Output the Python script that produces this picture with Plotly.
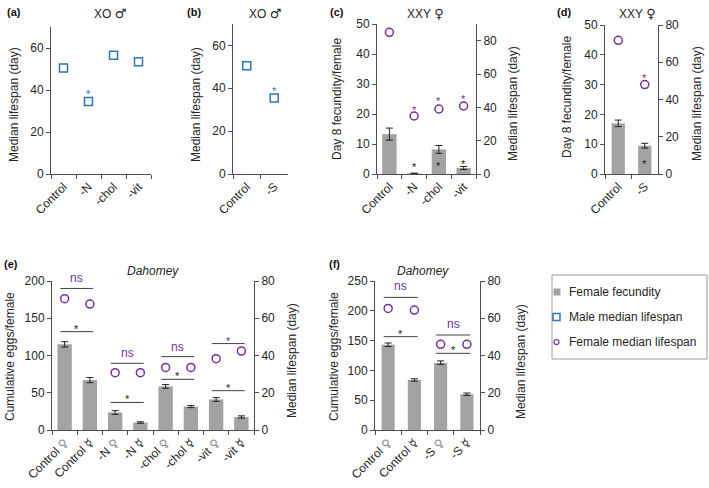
import plotly.graph_objects as go

W, H = 709, 488
FONT = "Arial, Liberation Sans, Helvetica, sans-serif"
BAR_C = "#a3a3a3"
BLUE = "#2e75b6"
PURPLE = "#7030a0"
AXC = "#4d4d4d"
TXT = "#262626"
LINE_C = "#404040"

# ---------------- data ----------------
# (a) XO male, median lifespan (day)
a_cats = ["Control", "-N", "-chol", "-vit"]
a_male = [50.5, 34.5, 56.5, 53.5]
a_star = [None, 39.5, None, None]

# (b) XO male
b_cats = ["Control", "-S"]
b_male = [50.5, 35.5]
b_star = [None, 40.0]

# (c) XXY female: day 8 fecundity (left) and median lifespan (right)
c_cats = ["Control", "-N", "-chol", "-vit"]
c_fec = [13.3, 0.2, 8.2, 2.0]
c_fec_err = [2.0, 0.1, 1.3, 0.5]
c_life = [85.0, 34.8, 39.0, 40.8]
c_fec_star = [None, 3.2, 3.8, 4.5]
c_life_star = [None, 40.4, 45.4, 46.8]

# (d) XXY female
d_cats = ["Control", "-S"]
d_fec = [17.0, 9.5]
d_fec_err = [1.1, 0.8]
d_life = [71.8, 48.0]
d_fec_star = [None, 4.3]
d_life_star = [None, 53.3]

# (e) Dahomey: cumulative eggs (left) and median lifespan (right)
e_cats = ["Control ♀", "Control ☿", "-N ♀", "-N ☿", "-chol ♀", "-chol ☿", "-vit ♀", "-vit ☿"]
e_fec = [115, 67, 23.5, 10, 58.5, 31.5, 41, 17.5]
e_fec_err = [3.5, 3.5, 2.5, 1.0, 2.5, 1.5, 2.5, 1.5]
e_life = [70.5, 67.6, 30.8, 30.8, 33.6, 33.6, 38.3, 42.4]
e_pairs = [0, 2, 4, 6]
e_life_brk = [76.0, 35.8, 39.4, 46.4]      # right-axis units
e_life_lab = ["ns", "ns", "ns", "*"]
e_fec_brk = [132, 37, 68, 52.8]            # left-axis units
e_fec_lab = ["*", "*", "*", "*"]

# (f) Dahomey
f_cats = ["Control ♀", "Control ☿", "-S ♀", "-S ☿"]
f_fec = [143, 84, 113, 60]
f_fec_err = [3, 2, 3, 2]
f_life = [65.3, 64.4, 46.0, 46.0]
f_pairs = [0, 2]
f_life_brk = [71.2, 51.0]
f_life_lab = ["ns", "ns"]
f_fec_brk = [156.6, 128.6]
f_fec_lab = ["*", "*"]

legend_labels = ["Female fecundity", "Male median lifespan", "Female median lifespan"]


# ---------------- helpers ----------------
def px_x(p):
    return p / W


def px_y(p):
    return 1 - p / H


SYM_STYLE = "font-family:DejaVu Sans;font-size:12px"


def fmt_tick(c):
    c = c.replace("♀", "<span style='%s;color:#8c8c8c'>♀</span>" % SYM_STYLE)
    c = c.replace("☿", "<span style='%s'>☿</span>" % SYM_STYLE)
    return c


def make_x(dom, cats, anchor):
    return dict(domain=[px_x(dom[0]), px_x(dom[1])], range=[-0.5, len(cats) - 0.5],
                type="category", anchor=anchor, showline=True, linecolor=AXC, linewidth=1,
                ticks="outside", tickson="boundaries", ticklen=4, tickcolor=AXC,
                tickangle=-45, tickmode="array", tickvals=cats,
                ticktext=[fmt_tick(c) for c in cats],
                tickfont=dict(size=12, color=TXT, family=FONT), automargin=False,
                showgrid=False, zeroline=False, fixedrange=True)


def make_y(dom, rng, tickvals, anchor, side="left", overlaying=None):
    d = dict(range=rng, anchor=anchor, side=side, showline=True, linecolor=AXC,
             linewidth=1, ticks="outside", ticklen=4, tickcolor=AXC,
             tickmode="array", tickvals=tickvals, automargin=False,
             tickfont=dict(size=12, color=TXT, family=FONT),
             showgrid=False, zeroline=False, fixedrange=True)
    if overlaying:
        d["overlaying"] = overlaying
    else:
        d["domain"] = [px_y(dom[1]), px_y(dom[0])]
    return d


fig = go.Figure()
ann = []
shapes = []


def text_ann(xref, yref, x, y, text, color, size=12, yshift=0, **kw):
    d = dict(xref=xref, yref=yref, x=x, y=y, text=text, showarrow=False,
             font=dict(size=size, color=color, family=FONT), xanchor="center",
             yanchor="middle", yshift=yshift)
    d.update(kw)
    ann.append(d)


def stars(xref, yref, cats, ys, color):
    for c, v in zip(cats, ys):
        if v is not None:
            text_ann(xref, yref, c, v, "*", color, size=11, yshift=-3)


def bars(xa, ya, cats, vals, errs, width):
    fig.add_trace(go.Bar(x=cats, y=vals, xaxis=xa, yaxis=ya, width=width,
                         marker=dict(color=BAR_C, line=dict(width=0)),
                         error_y=dict(type="data", array=errs, color="#222222",
                                      thickness=1, width=3.5),
                         showlegend=False, hoverinfo="skip"))


def points(xa, ya, cats, vals, symbol, color):
    fig.add_trace(go.Scatter(x=cats, y=vals, xaxis=xa, yaxis=ya, mode="markers",
                             marker=dict(symbol=symbol, size=8, color=color,
                                         line=dict(color=color, width=1.5)),
                             showlegend=False, hoverinfo="skip"))


def brackets(xa, ya, pairs, ys, labels, color, lab_shift):
    for i, v, lab in zip(pairs, ys, labels):
        shapes.append(dict(type="line", xref=xa, yref=ya, x0=i - 0.17, x1=i + 1.13,
                           y0=v, y1=v, line=dict(color=LINE_C, width=1)))
        shift = lab_shift if lab == "ns" else 3
        text_ann(xa, ya, i + 0.48, v, lab, color, size=12 if lab == "ns" else 11,
                 yshift=shift)


# ---------------- panels ----------------
L = {}
# (a)
L["xaxis"] = make_x((51, 151), a_cats, "y")
L["yaxis"] = make_y((27, 174), [0, 70], [0, 20, 40, 60], "x")
points("x", "y", a_cats, a_male, "square-open", BLUE)
stars("x", "y", a_cats, a_star, BLUE)

# (b)
L["xaxis2"] = make_x((233, 288), b_cats, "y2")
L["yaxis2"] = make_y((24, 174), [0, 70], [0, 20, 40, 60], "x2")
points("x2", "y2", b_cats, b_male, "square-open", BLUE)
stars("x2", "y2", b_cats, b_star, BLUE)

# (c)
L["xaxis3"] = make_x((377, 476), c_cats, "y3")
L["yaxis3"] = make_y((24, 174), [0, 50], [0, 10, 20, 30, 40, 50], "x3")
L["yaxis4"] = make_y(None, [0, 90], [0, 20, 40, 60, 80], "x3", side="right", overlaying="y3")
bars("x3", "y3", c_cats, c_fec, c_fec_err, 0.58)
points("x3", "y4", c_cats, c_life, "circle-open", PURPLE)
stars("x3", "y3", c_cats, c_fec_star, "#222222")
stars("x3", "y4", c_cats, c_life_star, PURPLE)

# (d)
L["xaxis4"] = make_x((605, 658), d_cats, "y5")
L["yaxis5"] = make_y((25, 174), [0, 50], [0, 10, 20, 30, 40, 50], "x4")
L["yaxis6"] = make_y(None, [0, 80], [0, 20, 40, 60, 80], "x4", side="right", overlaying="y5")
bars("x4", "y5", d_cats, d_fec, d_fec_err, 0.5)
points("x4", "y6", d_cats, d_life, "circle-open", PURPLE)
stars("x4", "y5", d_cats, d_fec_star, "#222222")
stars("x4", "y6", d_cats, d_life_star, PURPLE)

# (e)
L["xaxis5"] = make_x((52, 254), e_cats, "y7")
L["yaxis7"] = make_y((281, 430), [0, 200], [0, 50, 100, 150, 200], "x5")
L["yaxis8"] = make_y(None, [0, 80], [0, 20, 40, 60, 80], "x5", side="right", overlaying="y7")
bars("x5", "y7", e_cats, e_fec, e_fec_err, 0.57)
points("x5", "y8", e_cats, e_life, "circle-open", PURPLE)
brackets("x5", "y8", e_pairs, e_life_brk, e_life_lab, PURPLE, 10)
brackets("x5", "y7", e_pairs, e_fec_brk, e_fec_lab, "#222222", 10)

# (f)
L["xaxis6"] = make_x((375, 480), f_cats, "y9")
L["yaxis9"] = make_y((281, 430), [0, 250], [0, 50, 100, 150, 200, 250], "x6")
L["yaxis10"] = make_y(None, [0, 80], [0, 20, 40, 60, 80], "x6", side="right", overlaying="y9")
bars("x6", "y9", f_cats, f_fec, f_fec_err, 0.5)
points("x6", "y10", f_cats, f_life, "circle-open", PURPLE)
brackets("x6", "y10", f_pairs, f_life_brk, f_life_lab, PURPLE, 11)
brackets("x6", "y9", f_pairs, f_fec_brk, f_fec_lab, "#222222", 11)


# ---------------- paper texts ----------------
def paper_text(x, y, text, size=12, color=TXT, angle=0, bold=False, italic=False):
    t = text
    if bold:
        t = "<b>" + t + "</b>"
    if italic:
        t = "<i>" + t + "</i>"
    ann.append(dict(xref="paper", yref="paper", x=px_x(x), y=px_y(y), text=t,
                    showarrow=False, textangle=angle, xanchor="center", yanchor="middle",
                    font=dict(size=size, color=color, family=FONT)))


for x, y, t in [(14, 12, "(a)"), (194, 12, "(b)"), (337, 12, "(c)"), (564, 12, "(d)"),
                (11, 264, "(e)"), (334, 264, "(f)")]:
    paper_text(x, y, t, size=11, bold=True, color="#111111")

MALE = "<span style='font-family:DejaVu Sans;font-size:13px'>♂</span>"
FEMALE = "<span style='font-family:DejaVu Sans;font-size:13px'>♀</span>"
paper_text(110, 13, "XO " + MALE)
paper_text(265, 13, "XO " + MALE)
paper_text(426, 13, "XXY " + FEMALE)
paper_text(637, 13, "XXY " + FEMALE)
paper_text(153, 271, "Dahomey", italic=True)
paper_text(423, 271, "Dahomey", italic=True)

paper_text(14, 105, "Median lifespan (day)", angle=-90)
paper_text(196, 105, "Median lifespan (day)", angle=-90)
paper_text(337, 99, "Day 8 fecundity/female", angle=-90)
paper_text(513, 104, "Median lifespan (day)", angle=-90)
paper_text(567, 97, "Day 8 fecundity/female", angle=-90)
paper_text(697, 104, "Median lifespan (day)", angle=-90)
paper_text(10, 357, "Cumulative eggs/female", angle=-90)
paper_text(292, 361, "Median lifespan (day)", angle=-90)
paper_text(334, 357, "Cumulative eggs/female", angle=-90)
paper_text(521, 362, "Median lifespan (day)", angle=-90)

# ---------------- legend (drawn manually) ----------------
shapes.append(dict(type="rect", xref="paper", yref="paper", x0=px_x(552), x1=px_x(707),
                   y0=px_y(359), y1=px_y(275), line=dict(color="#9a9a9a", width=1)))
leg_y = [292, 317, 342]
shapes.append(dict(type="rect", xref="paper", yref="paper", x0=px_x(553.5), x1=px_x(560.5),
                   y0=px_y(leg_y[0] + 3.5), y1=px_y(leg_y[0] - 3.5),
                   fillcolor=BAR_C, line=dict(width=0)))
shapes.append(dict(type="rect", xref="paper", yref="paper", x0=px_x(553), x1=px_x(560),
                   y0=px_y(leg_y[1] + 3.5), y1=px_y(leg_y[1] - 3.5),
                   line=dict(color=BLUE, width=1.5)))
shapes.append(dict(type="circle", xref="paper", yref="paper", x0=px_x(554), x1=px_x(559),
                   y0=px_y(leg_y[2] + 2.5), y1=px_y(leg_y[2] - 2.5),
                   line=dict(color=PURPLE, width=1.2)))
for yy, lab in zip(leg_y, legend_labels):
    ann.append(dict(xref="paper", yref="paper", x=px_x(567), y=px_y(yy), text=lab,
                    showarrow=False, xanchor="left", yanchor="middle",
                    font=dict(size=12, color=TXT, family=FONT)))

fig.update_layout(template="none", width=W, height=H,
                  margin=dict(l=0, r=0, t=0, b=0, pad=0, autoexpand=False),
                  paper_bgcolor="white", plot_bgcolor="rgba(0,0,0,0)",
                  font=dict(family=FONT, color=TXT), showlegend=False,
                  annotations=ann, shapes=shapes, barmode="overlay", **L)

fig.write_html("out.html", config={"displayModeBar": False, "staticPlot": True},
               post_script="document.body.style.margin='0px';")
